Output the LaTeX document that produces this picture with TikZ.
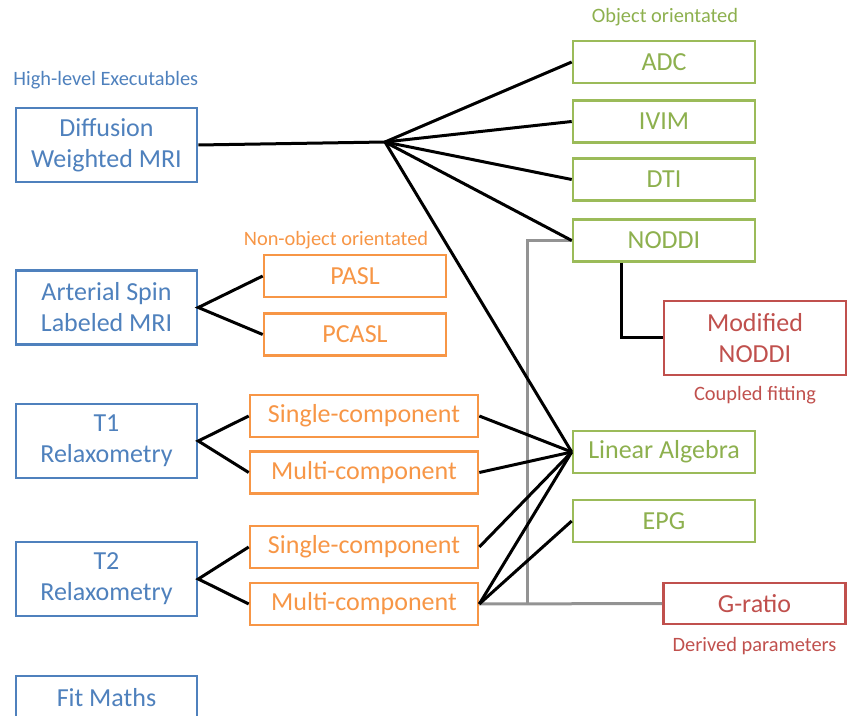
\documentclass[tikz,border=0pt]{standalone}
\usepackage{fontspec}
\setmainfont{Carlito}
\usetikzlibrary{positioning}

\definecolor{exeblue}{RGB}{79,129,189}
\definecolor{objgreen}{RGB}{155,187,89}
\definecolor{objgreentext}{RGB}{141,176,78}
\definecolor{nonorange}{RGB}{247,150,70}
\definecolor{derivred}{RGB}{192,80,77}

\tikzset{
  box/.style={draw, line width=1.3pt, fill=white, inner sep=0pt, align=center,
    font=\fontsize{13}{15.5}\selectfont},
  exebox/.style={box, draw=exeblue, text=exeblue, minimum width=90.5pt, minimum height=37pt},
  nonbox/.style={box, draw=nonorange, text=nonorange, minimum height=21pt},
  objbox/.style={box, draw=objgreen, text=objgreentext, minimum width=91pt, minimum height=21pt},
  redbox/.style={box, draw=derivred, text=derivred, minimum width=91pt},
  grouplabel/.style={inner sep=0pt, font=\fontsize{10.2}{12}\selectfont},
  link/.style={line width=1.5pt, black},
  greylink/.style={line width=1.5pt, gray!85}
}

\begin{document}
\begin{tikzpicture}[x=0.5pt, y=-0.5pt]
        \clip (0,0) rectangle (851,716);

        % High-level executables
        \node[grouplabel, text=exeblue, anchor=west] (exelabel) at (13,80) {High-level Executables};
        \node[exebox] (dwi) at (106.5,145) {Diffusion\\Weighted MRI};
        \node[exebox] (asl) at (106.5,307.5) {Arterial Spin\\Labeled MRI};
        \node[exebox] (tone) at (106.5,441) {T1\\Relaxometry};
        \node[exebox] (ttwo) at (106.5,579) {T2\\Relaxometry};
        \node[exebox] (fit) at (106.5,713) {Fit Maths\\ };

        % Non-object orientated
        \node[grouplabel, text=nonorange] (nonlabel) at (336,240) {Non-object orientated};
        \node[nonbox, minimum width=91pt] (pasl) at (355,276) {PASL};
        \node[nonbox, minimum width=91pt] (pcasl) at (355,334.5) {PCASL};
        \node[nonbox, minimum width=114pt] (tonesingle) at (364,416) {Single-component};
        \node[nonbox, minimum width=114pt] (tonemulti) at (364,472.5) {Multi-component};
        \node[nonbox, minimum width=114pt] (ttwosingle) at (364,547) {Single-component};
        \node[nonbox, minimum width=114pt] (ttwomulti) at (364,604) {Multi-component};

        % Object orientated
        \node[grouplabel, text=objgreentext] (objlabel) at (665,17) {Object orientated};
        \node[objbox] (adc) at (664,62) {ADC};
        \node[objbox] (ivim) at (664,121.5) {IVIM};
        \node[objbox] (dti) at (664,179.5) {DTI};
        \node[objbox] (noddi) at (664,240.5) {NODDI};
        \node[objbox] (linalg) at (664,452) {Linear Algebra};
        \node[objbox] (epg) at (664,521) {EPG};

        % Derived parameters
        \node[redbox, minimum height=37pt] (modnoddi) at (755,338) {Modified\\NODDI};
        \node[grouplabel, text=derivred, below=5pt of modnoddi] (coupledlabel) {Coupled fitting};
        \node[redbox, minimum height=20.5pt] (gratio) at (754.5,603.5) {G-ratio};
        \node[grouplabel, text=derivred, below=6pt of gratio] (derivedlabel) {Derived parameters};

        % grey links
        \coordinate (greyturn) at (527,603.5);
        \draw[greylink] (ttwomulti.east) -- (gratio.west);
        \draw[greylink] (greyturn) |- (noddi.west);

        % diffusion fan
        \coordinate (hub) at (385,142);
        \draw[link] (dwi.east) -- (hub);
        \foreach \target in {adc,ivim,dti,noddi,linalg}
          \draw[link] (hub) -- (\target.west);
        \draw[link] (noddi.south -| 621,0) |- (modnoddi.west);

        % left side splits
        \draw[link] (pasl.west) -- (asl.east) -- (pcasl.west);
        \draw[link] (tonesingle.west) -- (tone.east) -- (tonemulti.west);
        \draw[link] (ttwosingle.west) -- (ttwo.east) -- (ttwomulti.west);

        % fitting routes
        \foreach \source in {tonesingle,tonemulti,ttwosingle,ttwomulti}
          \draw[link] (\source.east) -- (linalg.west);
        \draw[link] (ttwomulti.east) -- (epg.west);

    \end{tikzpicture}
\end{document}
